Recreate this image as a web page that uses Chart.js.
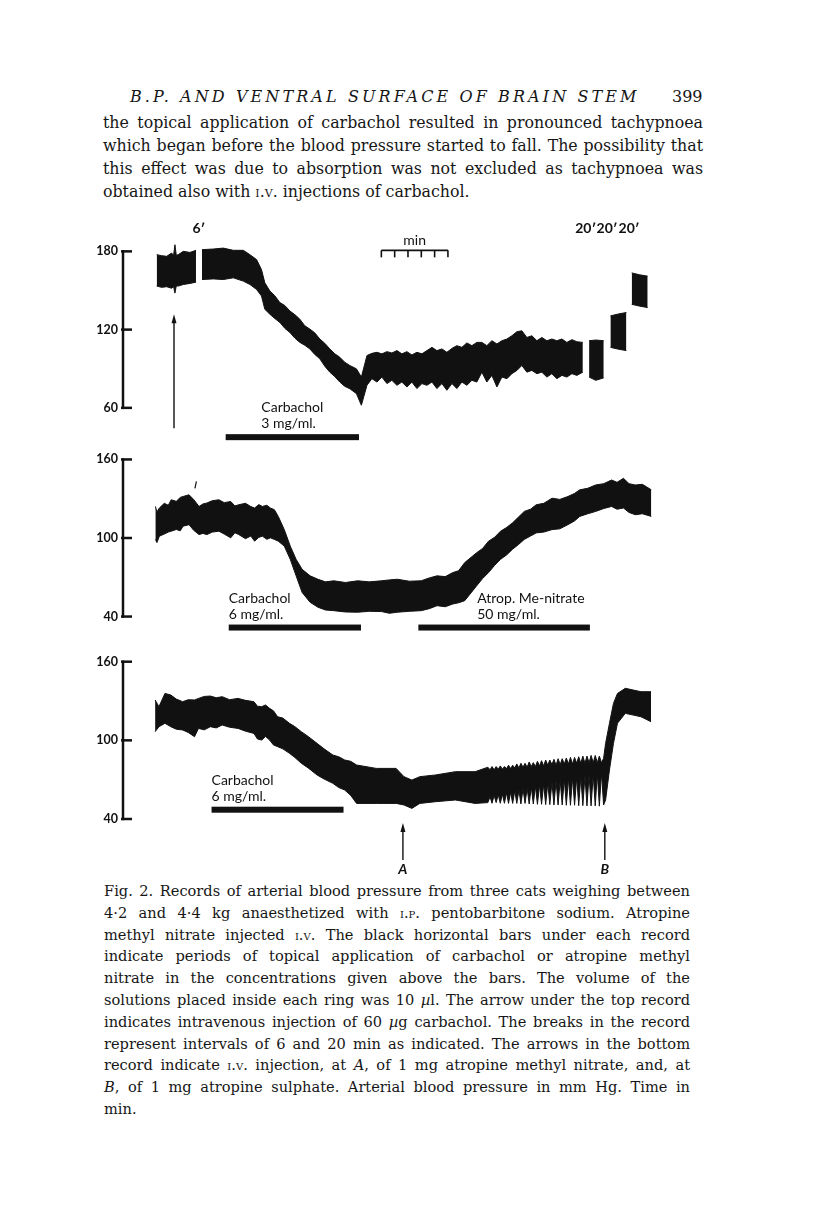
<!DOCTYPE html>
<html>
<head>
<meta charset="utf-8">
<script src="https://cdn.jsdelivr.net/npm/chart.js@4.4.1/dist/chart.umd.min.js"></script>
<style>
  html, body { margin: 0; padding: 0; background: #fff; }
  body { position: relative; width: 816px; height: 1215px; overflow: hidden; color: #161616; }
  canvas { position: absolute; left: 0; }
  .serif { font-family: "DejaVu Serif", serif; }
  .sc { font-variant: small-caps; }
  #runhead { position: absolute; top: 87px; left: 130px; font-size: 16px; font-style: italic; letter-spacing: 3.1px; white-space: nowrap; }
  #folio { position: absolute; top: 87px; left: 672px; font-size: 16px; }
  .block { position: absolute; }
  .block div { text-align: justify; text-align-last: justify; }
  .block div.last { text-align-last: left; }
  #para { top: 111px; left: 103px; width: 600px; font-size: 15.8px; line-height: 23px; }
  #caption { top: 880px; left: 104px; width: 586px; font-size: 14.6px; line-height: 21.8px; }
  .lbl { position: absolute; font-family: Lato, "Open Sans", sans-serif; font-size: 14px; line-height: 16px; white-space: nowrap; color: #111; }
  .brk { font-weight: bold; font-size: 14px; }
  .io { font-style: italic; font-weight: bold; }
</style>
</head>
<body>
<div id="runhead" class="serif">B.P. AND VENTRAL SURFACE OF BRAIN STEM</div>
<div id="folio" class="serif">399</div>
<div id="para" class="block serif">
  <div>the topical application of carbachol resulted in pronounced tachypnoea</div>
  <div>which began before the blood pressure started to fall. The possibility that</div>
  <div>this effect was due to absorption was not excluded as tachypnoea was</div>
  <div class="last">obtained also with <span class="sc">i.v.</span> injections of carbachol.</div>
</div>

<canvas id="c1"></canvas>
<canvas id="c2"></canvas>
<canvas id="c3"></canvas>

<div id="caption" class="block serif">
  <div>Fig. 2. Records of arterial blood pressure from three cats weighing between</div>
  <div>4·2 and 4·4 kg anaesthetized with <span class="sc">i.p.</span> pentobarbitone sodium. Atropine</div>
  <div>methyl nitrate injected <span class="sc">i.v.</span> The black horizontal bars under each record</div>
  <div>indicate periods of topical application of carbachol or atropine methyl</div>
  <div>nitrate in the concentrations given above the bars. The volume of the</div>
  <div>solutions placed inside each ring was 10 <i>µ</i>l. The arrow under the top record</div>
  <div>indicates intravenous injection of 60 <i>µ</i>g carbachol. The breaks in the record</div>
  <div>represent intervals of 6 and 20 min as indicated. The arrows in the bottom</div>
  <div>record indicate <span class="sc">i.v.</span> injection, at <i>A</i>, of 1 mg atropine methyl nitrate, and, at</div>
  <div><i>B</i>, of 1 mg atropine sulphate. Arterial blood pressure in mm Hg. Time in</div>
  <div class="last">min.</div>
</div>

<script>
// time of record in min, upper and lower edge of the pressure trace in mm Hg (null = break)
const time1 = [0.13, 0.5, 0.88, 1.25, 1.4, 1.5, 1.6, 1.75, 2.13, 2.63, 3.08, 3.3,
  3.53, 4.38, 5.13, 5.88, 6.63, 7.13, 7.63, 8.0, 8.25, 8.63, 9.0, 9.38, 9.75, 10.13, 10.5, 10.88,
  11.25, 11.63, 12.0, 12.38, 12.75, 13.13, 13.5, 13.88, 14.25, 14.63, 15.13, 15.5,
  15.92, 16.29, 16.67, 17.04, 17.42, 17.79, 18.17, 18.54, 18.92, 19.29, 19.67, 20.05, 20.42, 20.8,
  21.17, 21.55, 21.92, 22.3, 22.67, 23.05, 23.42, 23.8, 24.17, 24.55, 24.92, 25.3, 25.68, 26.05,
  26.43, 26.8, 27.18, 27.55, 27.93, 28.3, 28.68, 29.05, 29.43, 29.8, 30.18, 30.56, 30.93, 31.31,
  31.68, 32.13, 32.35,
  32.6, 33.1, 33.7, 33.95, 34.2, 34.8, 35.4, 35.6, 35.8, 36.4, 37.0];
const upper1 = [177.5, 176.7, 176.2, 178.7, 177, 185.1, 177, 177.5, 180, 179.2, 180.8, null,
  181.3, 181.8, 182.5, 180.8, 180.8, 177.5, 173.7, 166.0, 155.9, 149.6, 146.0, 140.7, 138.5, 134.3, 131.5, 128.0,
  123.0, 120.4, 117.5, 112.8, 109.5, 105.2, 101.5, 98.8, 95.0, 92.5, 89.9, 83.6,
  100.1, 101.8, 102.6, 101.4, 103.1, 102.1, 103.9, 101.4, 103.1, 100.6, 102.6, 101.4, 103.9, 106.4,
  103.9, 105.2, 102.6, 105.6, 107.7, 106.4, 109.8, 107.7, 110.2, 110.2, 107.7, 111.5, 109.0, 111.5,
  112.8, 115.3, 118.4, 119.1, 114.0, 115.3, 111.5, 114.0, 111.5, 112.8, 111.5, 112.8, 110.2, 112.3,
  110.7, 110.2, null,
  111.5, 112.0, 111.5, null, 130.5, 132.0, 133.1, null, 163.5, 162.0, 161.0];
const lower1 = [153.4, 152.4, 152.9, 151.7, 153, 148.0, 153.5, 153.4, 154.6, 155.4, 156.4, null,
  158.4, 158.9, 158.4, 159.7, 157.2, 154.6, 150.8, 145.8, 135.6, 131.8, 128.5, 125.5, 121.0, 117.8, 113.5, 110.2,
  108.0, 105.2, 101.0, 97.6, 92.0, 87.4, 84.0, 79.8, 76.5, 74.7, 70.9, 62.0,
  77.3, 82.4, 79.8, 83.6, 78.6, 81.1, 77.3, 79.8, 76.0, 79.8, 74.8, 78.6, 77.3, 79.8,
  74.8, 78.6, 73.5, 78.6, 74.8, 79.8, 77.3, 81.1, 79.8, 87.4, 79.8, 84.9, 76.0, 83.6,
  82.4, 86.2, 88.7, 92.5, 87.4, 88.7, 86.2, 87.4, 83.6, 86.2, 82.4, 84.9, 83.6, 86.2,
  84.9, 87.4, null,
  83.6, 81.1, 83.0, null, 106.4, 105.0, 103.9, null, 139.4, 138.0, 136.9];

const time2 = [0.03, 0.15, 0.33, 0.7, 1.0, 1.22, 1.6, 1.9, 2.11, 2.56, 2.9, 3.31, 3.6, 3.9, 4.3, 4.8,
  5.2, 5.69, 6.0, 6.29, 6.8, 7.2, 7.48, 7.8, 8.07, 8.4, 8.67, 8.97, 9.26, 9.71, 10.16, 10.6, 11.05,
  11.65, 12.24, 12.8, 13.43, 14.3, 15.22, 16.1, 17.01, 17.6, 18.2, 19.1, 19.99, 20.6, 21.18, 21.8,
  22.37, 22.8, 23.26, 24.16, 24.6, 25.05, 25.5, 25.95, 26.4, 26.84, 27.3, 27.73, 28.2, 28.63, 29.2,
  29.82, 30.4, 31.01, 31.5, 31.9, 32.5, 33.09, 33.7, 34.29, 34.7, 35.18, 35.6, 36.07, 36.6, 37.27];
const upper2 = [124.1, 120.0, 122.9, 126.5, 125.0, 129.2, 128.0, 131.0, 131.7, 133.0, 129.5, 124.1, 126.0, 126.7, 128.5, 129.2,
  127.0, 127.9, 124.5, 125.4, 126.5, 124.0, 122.9, 125.5, 124.1, 125.0, 122.9, 121.6, 116.5, 106.4, 93.8, 83.7, 76.1,
  71.1, 68.5, 66.5, 67.3, 66.0, 67.3, 66.5, 67.3, 68.0, 68.5, 67.0, 67.3, 69.5, 71.1, 70.5,
  73.6, 75.0, 81.2, 88.8, 92.0, 97.6, 100.5, 105.2, 108.0, 111.5, 116.0, 120.3, 122.0, 125.4, 126.5,
  130.4, 129.5, 131.7, 134.0, 136.8, 138.0, 140.5, 141.5, 144.3, 142.5, 145.6, 141.5, 140.5, 141.0, 136.8];
const lower2 = [98.9, 96.5, 101.4, 103.0, 104.5, 105.2, 106.5, 105.5, 109.0, 110.2, 106.0, 102.6, 103.5, 102.6, 104.5, 105.2,
  103.0, 100.1, 104.0, 102.6, 99.5, 101.5, 97.6, 100.5, 101.4, 99.0, 100.1, 98.9, 97.6, 93.8, 83.7, 71.1, 58.4,
  50.9, 47.1, 45.0, 44.5, 43.5, 43.3, 44.0, 43.8, 42.5, 43.3, 44.0, 44.5, 46.0, 48.3, 47.5,
  49.6, 50.5, 52.1, 63.5, 69.0, 73.6, 79.0, 83.7, 87.0, 91.3, 95.0, 98.9, 101.5, 103.9, 104.5,
  106.4, 107.0, 110.2, 113.0, 116.5, 118.5, 120.3, 122.5, 124.1, 122.0, 122.9, 119.5, 117.8, 118.5, 116.5];

// bottom record: from 25 min on the respiratory waves show as single strokes
const time3 = [0.01, 0.3, 0.75, 1.19, 1.6, 2.08, 2.5, 2.97, 3.27, 3.7, 4.16, 4.6, 5.05, 5.6, 6.24, 6.8,
  7.43, 7.7, 8.02, 8.3, 8.61, 8.9, 9.21, 9.6, 10.1, 10.5, 10.99, 11.5, 12.17, 12.7, 13.36, 13.8,
  14.25, 14.7, 15.14, 16.62, 18.11, 18.7, 19.29, 19.89, 21.07, 22.56, 24.04,
  25.0, 25.16, 25.31, 25.47, 25.62, 25.78, 25.93, 26.09, 26.24, 26.4, 26.55, 26.71, 26.86, 27.02,
  27.17, 27.33, 27.48, 27.64, 27.79, 27.95, 28.1, 28.26, 28.41, 28.57, 28.72, 28.88, 29.03, 29.19,
  29.34, 29.5, 29.65, 29.81, 29.96, 30.12, 30.27, 30.43, 30.58, 30.74, 30.89, 31.05, 31.2, 31.36,
  31.51, 31.67, 31.82, 31.98, 32.13, 32.29, 32.44, 32.6, 32.75, 32.91, 33.06, 33.22, 33.37, 33.53,
  33.69, 33.84, 34.13, 34.43, 34.73, 35.32, 35.91, 36.5, 37.25];
const upper3 = [130.8, 125.7, 135.8, 134.6, 131.5, 129.5, 131.0, 130.8, 132.0, 133.5, 133.8, 132.5, 133.3, 131.0, 132.0, 130.5,
  129.5, 126.0, 125.7, 127.0, 124.4, 122.5, 118.0, 117.0, 113.0, 110.5, 106.6, 103.0, 97.7, 93.5, 88.8, 87.5,
  85.0, 84.0, 81.2, 78.6, 78.6, 72.3, 69.7, 72.3, 73.6, 76.1, 76.1,
  79.5, 77.5, 80.0, 77.5, 80.0, 78.0, 80.5, 78.0, 80.0, 78.5, 81.0, 78.5, 81.0, 79.0,
  82.0, 79.0, 82.5, 79.5, 82.5, 79.5, 83.5, 80.0, 83.0, 80.0, 84.0, 80.5, 84.5, 80.5,
  85.0, 81.0, 85.0, 81.5, 85.5, 81.0, 86.0, 81.5, 86.0, 82.0, 86.5, 82.0, 87.0, 82.0,
  87.0, 82.5, 87.5, 82.5, 88.0, 82.5, 88.0, 83.0, 88.5, 83.0, 88.5, 83.0, 88.0, 83.0,
  86.3, 97.7, 113.0, 128.2, 135.8, 139.7, 138.4, 137.1, 137.1];
const lower3 = [106.6, 110.4, 113.0, 110.4, 108.5, 107.9, 106.0, 102.8, 109.1, 108.0, 110.4, 109.5, 111.7, 110.0, 109.1, 107.0,
  105.3, 101.0, 100.2, 103.0, 100.2, 96.5, 95.2, 93.5, 90.1, 87.0, 82.5, 79.0, 73.6, 70.5, 67.2, 64.0,
  62.1, 58.0, 51.9, 51.9, 51.9, 50.7, 48.1, 51.9, 53.2, 54.5, 51.9,
  52.5, 57.0, 52.0, 58.0, 52.5, 58.5, 52.0, 59.0, 52.0, 60.0, 51.9, 60.5, 51.9, 61.5,
  51.9, 62.0, 51.5, 63.0, 51.9, 63.5, 51.5, 64.5, 51.5, 65.0, 51.2, 66.0, 51.2, 66.5,
  51.0, 67.5, 51.0, 68.0, 50.7, 69.0, 50.7, 69.5, 50.7, 70.5, 50.5, 71.0, 50.5, 71.5,
  50.5, 72.0, 50.2, 72.5, 50.2, 73.0, 50.0, 73.5, 50.0, 74.0, 50.0, 74.5, 49.8, 75.0,
  50.7, 54.5, 77.4, 97.7, 113.0, 120.6, 119.3, 118.0, 114.2];

// calibration ticks (mm Hg)
const yTicks1 = [60, 120, 180];
const yTicks2 = [40, 100, 160];
const yTicks3 = [40, 100, 160];

// topical applications: start and end (min) and their labels
const bars1 = [[5.31, 15.32]];
const barText1 = [['Carbachol', '3 mg/ml.']];
const bars2 = [[5.54, 15.47], [19.78, 32.66]];
const barText2 = [['Carbachol', '6 mg/ml.'], ['Atrop. Me-nitrate', '50 mg/ml.']];
const bars3 = [[4.25, 14.16]];
const barText3 = [['Carbachol', '6 mg/ml.']];

// i.v. injections (min)
const inject1 = [1.43];
const inject3 = [18.62, 33.78];
const injectNames3 = ['A', 'B'];

// breaks in the record (min) and the intervals they stand for
const breaks1 = [3.3, 32.35, 33.95, 35.6];
const breakText1 = ['6\u2032', '20\u2032', '20\u2032', '20\u2032'];

// time marker: 5 min in 1-min steps
const timeMark = [17.0, 18.0, 19.0, 20.0, 21.0, 22.0];
const penMark2 = [3.0];

const X_MIN = -2.4, X_MAX = 38.3;
const EXT = 16; // mm Hg of room above and below the calibration so the trace is not clipped

const tracePlugin = {
  id: 'trace',
  afterDraw(chart) {
    const o = chart.options.plugins.trace;
    const ctx = chart.ctx, xs = chart.scales.x, ys = chart.scales.y, a = chart.chartArea;
    const yHigh = ys.getPixelForValue(o.ticks[o.ticks.length - 1]);
    const yLow = ys.getPixelForValue(o.ticks[0]);
    ctx.save();
    ctx.fillStyle = '#111';
    ctx.strokeStyle = '#111';
    // calibration bracket
    ctx.lineWidth = 2.5;
    ctx.beginPath(); ctx.moveTo(a.left, yHigh - 1.2); ctx.lineTo(a.left, yLow + 1.2); ctx.stroke();
    o.ticks.forEach(v => {
      const py = ys.getPixelForValue(v);
      ctx.beginPath(); ctx.moveTo(a.left - 2, py); ctx.lineTo(a.left + 9, py); ctx.stroke();
    });
    // bars under the record
    o.bars.forEach(b => {
      const x0 = xs.getPixelForValue(b[0]), x1 = xs.getPixelForValue(b[1]);
      ctx.fillRect(x0, yLow + o.barTop, x1 - x0, 6);
    });
    // injection arrows
    ctx.lineWidth = 1.4;
    o.arrows.forEach(t => {
      const px = xs.getPixelForValue(t);
      const tip = yHigh + o.arrowSpan[0], tail = yHigh + o.arrowSpan[1];
      ctx.beginPath(); ctx.moveTo(px, tail); ctx.lineTo(px, tip + 6); ctx.stroke();
      ctx.beginPath(); ctx.moveTo(px, tip); ctx.lineTo(px - 2.5, tip + 9); ctx.lineTo(px + 2.5, tip + 9); ctx.closePath(); ctx.fill();
    });
    // time marker
    if (o.timeMark) {
      const y = yHigh - 1;
      ctx.lineWidth = 1.6;
      ctx.beginPath();
      ctx.moveTo(xs.getPixelForValue(o.timeMark[0]), y);
      ctx.lineTo(xs.getPixelForValue(o.timeMark[o.timeMark.length - 1]), y);
      ctx.stroke();
      o.timeMark.forEach(t => {
        const px = xs.getPixelForValue(t);
        ctx.beginPath(); ctx.moveTo(px, y); ctx.lineTo(px, y + 7); ctx.stroke();
      });
    }
    // pen marks
    ctx.lineWidth = 1.2;
    (o.pen || []).forEach(t => {
      const px = xs.getPixelForValue(t);
      ctx.beginPath(); ctx.moveTo(px, yHigh + 29); ctx.lineTo(px + 1.5, yHigh + 22); ctx.stroke();
    });
    ctx.restore();
  }
};

function pts(t, v) {
  return t.map((x, i) => ({ x: x, y: v[i] }));
}

function label(lines, x, y, cls, align) {
  const d = document.createElement('div');
  d.className = 'lbl ' + (cls || '');
  d.innerHTML = lines.join('<br>');
  d.style.left = x + 'px';
  d.style.top = y + 'px';
  if (align === 'center') d.style.transform = 'translateX(-50%)';
  document.body.appendChild(d);
}

function panel(id, p) {
  const cv = document.getElementById(id);
  const lo = p.ticks[0], hi = p.ticks[p.ticks.length - 1];
  const k = (p.calBottom - p.calTop) / (hi - lo);
  const areaTop = p.calTop - EXT * k, areaBottom = p.calBottom + EXT * k;
  cv.width = 816; cv.height = p.height;
  cv.style.top = p.top + 'px';
  const chart = new Chart(cv, {
    type: 'line',
    data: {
      datasets: [
        { data: pts(p.time, p.lower), borderColor: '#111', borderWidth: 1, pointRadius: 0, fill: false, clip: false },
        { data: pts(p.time, p.upper), borderColor: '#111', borderWidth: 1, pointRadius: 0, fill: '-1', backgroundColor: '#111', clip: false }
      ]
    },
    options: {
      responsive: false,
      animation: false,
      events: [],
      layout: { padding: { left: 0, right: 816 - 665, top: areaTop - p.top, bottom: p.top + p.height - areaBottom } },
      plugins: {
        legend: { display: false },
        tooltip: { enabled: false },
        trace: { ticks: p.ticks, bars: p.bars, barTop: p.barTop, arrows: p.arrows || [], arrowSpan: p.arrowSpan, timeMark: p.timeMark, pen: p.pen }
      },
      scales: {
        x: { type: 'linear', min: X_MIN, max: X_MAX, display: false },
        y: {
          min: lo - EXT, max: hi + EXT,
          afterFit: s => { s.width = 123; },
          afterBuildTicks: s => { s.ticks = p.ticks.map(v => ({ value: v })); },
          ticks: { padding: 5, color: '#111', font: { family: 'Lato', weight: 'bold', size: 12.5 } },
          grid: { drawOnChartArea: false, drawTicks: false },
          border: { display: false }
        }
      }
    },
    plugins: [tracePlugin]
  });

  const xs = chart.scales.x, ys = chart.scales.y;
  const X = t => xs.getPixelForValue(t);
  const yLow = p.top + ys.getPixelForValue(lo);
  p.bars.forEach((b, i) => {
    const yb = yLow + p.barTop;
    const at = p.textAt[i];
    if (at === 'center') label(p.barText[i], (X(b[0]) + X(b[1])) / 2, yb - 35, '', 'center');
    else label(p.barText[i], X(at), yb - 35, '');
  });
  chart.yHighPage = p.top + ys.getPixelForValue(hi);
  chart.yLowPage = yLow;
  return chart;
}

const c1 = panel('c1', {
  top: 218, height: 232, calTop: 250, calBottom: 407.7,
  time: time1, upper: upper1, lower: lower1, ticks: yTicks1,
  bars: bars1, barText: barText1, textAt: ['center'], barTop: 26.3,
  arrows: inject1, arrowSpan: [63, 177], timeMark: timeMark
});
const c2 = panel('c2', {
  top: 426, height: 224, calTop: 459.3, calBottom: 617.7,
  time: time2, upper: upper2, lower: lower2, ticks: yTicks2,
  bars: bars2, barText: barText2, textAt: [5.54, 24.2], barTop: 8,
  pen: penMark2
});
const c3 = panel('c3', {
  top: 628, height: 240, calTop: 661.7, calBottom: 819,
  time: time3, upper: upper3, lower: lower3, ticks: yTicks3,
  bars: bars3, barText: barText3, textAt: [4.25], barTop: -12.3,
  arrows: inject3, arrowSpan: [161.3, 198.3]
});

// break intervals and time marker on the top record
{
  const xs = c1.scales.x;
  breaks1.forEach((t, i) => label([breakText1[i]], xs.getPixelForValue(t), c1.yHighPage - 31, 'brk', 'center'));
  const mid = (xs.getPixelForValue(timeMark[0]) + xs.getPixelForValue(timeMark[timeMark.length - 1])) / 2;
  label(['min'], mid, c1.yHighPage - 19, '', 'center');
}
// names of the injections on the bottom record
{
  const xs = c3.scales.x;
  inject3.forEach((t, i) => label([injectNames3[i]], xs.getPixelForValue(t), c3.yLowPage + 42, 'io', 'center'));
}
</script>
</body>
</html>
